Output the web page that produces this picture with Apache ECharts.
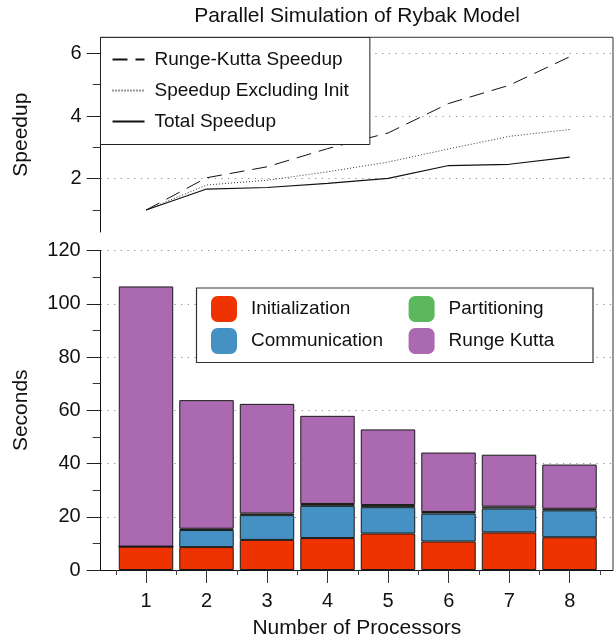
<!DOCTYPE html>
<html>
<head>
<meta charset="utf-8">
<script src="https://cdn.jsdelivr.net/npm/echarts@6/dist/echarts.min.js"></script>
<style>html,body{margin:0;padding:0;background:#fff;}#main{width:616px;height:634px;}</style>
</head>
<body>
<div id="main"></div>
<script>
// ---- data ----
const categories = ['1', '2', '3', '4', '5', '6', '7', '8'];
const processors = [1, 2, 3, 4, 5, 6, 7, 8];
const binEdges = [0.5, 1.5, 2.5, 3.5, 4.5, 5.5, 6.5, 7.5, 8.5];

const initialization = [8.8, 8.6, 11.3, 12.0, 13.7, 10.7, 14.1, 12.3];
const communication = [0, 6.4, 9.3, 12.1, 9.9, 10.5, 9.0, 10.1];
const partitioning = [0, 0.5, 0.6, 0.7, 0.8, 0.6, 0.7, 0.6];
const rungeKutta = [97.7, 48.3, 41.2, 33.1, 28.4, 22.3, 19.5, 16.6];

const rkSpeedup = [1.0, 2.03, 2.38, 2.96, 3.46, 4.40, 4.98, 5.89];
const exclInitSpeedup = [1.0, 1.80, 1.95, 2.22, 2.53, 2.95, 3.35, 3.57];
const totalSpeedup = [1.0, 1.67, 1.72, 1.85, 2.01, 2.42, 2.46, 2.69];

const speedupLabelTicks = [2, 4, 6];
const speedupMinorTicks = [1, 3, 5];
// ---------------

const FONT = '"Liberation Sans", Arial, Helvetica, sans-serif';
const BLACK = '#111';
const gridDots = { color: '#8a8a8a', width: 1, type: [1.2, 5.5] };
const X_MIN = 0.25, X_MAX = 8.715;

const chart = echarts.init(document.getElementById('main'), null, { renderer: 'canvas' });

const pairs = arr => processors.map((p, i) => [p, arr[i]]);

const barBase = {
  type: 'bar', stack: 'total', xAxisIndex: 3, yAxisIndex: 3,
  barCategoryGap: '10%'
};
const barStyle = c => ({ color: c, borderColor: '#1a1a1a', borderWidth: 1 });

const option = {
  backgroundColor: '#fff',
  animation: false,
  textStyle: { fontFamily: FONT, color: BLACK },
  title: {
    text: 'Parallel Simulation of Rybak Model',
    left: 357, top: 6, textAlign: 'center', padding: 0,
    textStyle: { fontFamily: FONT, fontSize: 21, fontWeight: 'normal', color: BLACK }
  },
  grid: [
    { left: 100.7, right: 3, top: 37.3, height: 194.7, outerBoundsMode: 'none', containLabel: false },
    { left: 100.7, right: 3, top: 250.5, bottom: 64, outerBoundsMode: 'none', containLabel: false },
    { left: 115.75, width: 484, top: 250.5, bottom: 64, outerBoundsMode: 'none', containLabel: false }
  ],
  xAxis: [
    { gridIndex: 0, type: 'value', min: X_MIN, max: X_MAX, show: false },
    {
      gridIndex: 1, type: 'value', min: X_MIN, max: X_MAX, position: 'bottom',
      axisLine: { show: true, onZero: false, lineStyle: { color: BLACK, width: 1 } },
      axisTick: { show: true, length: 13, customValues: processors, lineStyle: { color: '#333' } },
      axisLabel: { customValues: processors, fontSize: 20, color: BLACK, margin: 21, fontFamily: FONT },
      splitLine: { show: false },
      name: 'Number of Processors', nameLocation: 'middle', nameGap: 48,
      nameTextStyle: { fontSize: 21, color: BLACK, fontFamily: FONT }
    },
    {
      gridIndex: 1, type: 'value', min: X_MIN, max: X_MAX, position: 'bottom',
      axisLine: { show: false, onZero: false },
      axisTick: { show: true, length: 5, customValues: binEdges, lineStyle: { color: '#444' } },
      axisLabel: { show: false },
      splitLine: { show: false }
    },
    { gridIndex: 2, type: 'category', data: categories, boundaryGap: true, show: false }
  ],
  yAxis: [
    {
      gridIndex: 0, type: 'value', min: 0.3, max: 6.51, position: 'left',
      axisLine: { show: true, onZero: false, lineStyle: { color: BLACK, width: 1 } },
      axisTick: { show: true, length: 14, customValues: speedupLabelTicks, lineStyle: { color: '#222' } },
      axisLabel: { customValues: speedupLabelTicks, fontSize: 20, color: BLACK, margin: 19, fontFamily: FONT },
      splitLine: { show: false },
      name: 'Speedup', nameLocation: 'middle', nameGap: 69,
      nameTextStyle: { fontSize: 21, color: BLACK, fontFamily: FONT }
    },
    {
      gridIndex: 0, type: 'value', min: 0.3, max: 6.51, position: 'left',
      axisLine: { show: false, onZero: false },
      axisTick: { show: true, length: 8, customValues: speedupMinorTicks, lineStyle: { color: '#333' } },
      axisLabel: { show: false },
      splitLine: { show: false }
    },
    {
      gridIndex: 1, type: 'value', min: 0, max: 120, interval: 20, position: 'left',
      axisLine: { show: true, onZero: false, lineStyle: { color: BLACK, width: 1 } },
      axisTick: { show: true, length: 14, lineStyle: { color: '#222' } },
      minorTick: { show: true, splitNumber: 2, length: 8, lineStyle: { color: '#333' } },
      axisLabel: { fontSize: 20, color: BLACK, margin: 20, fontFamily: FONT },
      splitLine: { show: true, lineStyle: gridDots },
      name: 'Seconds', nameLocation: 'middle', nameGap: 69,
      nameTextStyle: { fontSize: 21, color: BLACK, fontFamily: FONT }
    },
    { gridIndex: 2, type: 'value', min: 0, max: 120, show: false }
  ],
  legend: [
    {
      data: ['Runge-Kutta Speedup', 'Speedup Excluding Init', 'Total Speedup'],
      orient: 'vertical', left: 100.5, top: 37.5,
      padding: [12, 21, 13, 11], itemWidth: 32, itemHeight: 14, itemGap: 11,
      backgroundColor: '#fff', borderColor: '#222', borderWidth: 1, borderRadius: 0,
      selectedMode: false,
      itemStyle: { color: 'rgba(0,0,0,0)', borderWidth: 0, opacity: 0 },
      textStyle: { fontSize: 19, lineHeight: 20, color: BLACK, fontFamily: FONT, padding: [0, 0, 0, 5] }
    },
    {
      data: ['Initialization', 'Communication'],
      orient: 'vertical', left: 211, top: 296, padding: 0,
      itemWidth: 26, itemHeight: 26, itemGap: 6, icon: 'roundRect',
      itemStyle: { borderWidth: 0 }, selectedMode: false,
      textStyle: { fontSize: 19, color: BLACK, fontFamily: FONT, padding: [0, 0, 0, 9] }
    },
    {
      data: ['Partitioning', 'Runge Kutta'],
      orient: 'vertical', left: 408.6, top: 296, padding: 0,
      itemWidth: 26, itemHeight: 26, itemGap: 6, icon: 'roundRect',
      itemStyle: { borderWidth: 0 }, selectedMode: false,
      textStyle: { fontSize: 19, color: BLACK, fontFamily: FONT, padding: [0, 0, 0, 9] }
    }
  ],
  graphic: [
    {
      type: 'rect', z: 3,
      shape: { x: 196.5, y: 288, width: 396.5, height: 74.5 },
      style: { fill: '#fff', stroke: '#333', lineWidth: 1.2 }
    },
    {
      type: 'polyline', z: 5,
      shape: { points: [[100.7, 37.3], [613, 37.3], [613, 570]] },
      style: { fill: null, stroke: '#333', lineWidth: 1 }
    }
  ],
  series: [
    {
      name: 'Runge-Kutta Speedup', type: 'line', xAxisIndex: 0, yAxisIndex: 0,
      data: pairs(rkSpeedup), symbol: 'none', z: 3,
      lineStyle: { color: BLACK, width: 1, type: [15, 8] }, itemStyle: { color: BLACK },
      markLine: {
        silent: true, symbol: 'none', label: { show: false }, z: 1,
        lineStyle: gridDots,
        data: speedupLabelTicks.map(v => ({ yAxis: v }))
      }
    },
    {
      name: 'Speedup Excluding Init', type: 'line', xAxisIndex: 0, yAxisIndex: 0,
      data: pairs(exclInitSpeedup), symbol: 'none', z: 3,
      lineStyle: { color: '#333', width: 1, type: [1, 2] }, itemStyle: { color: '#333' }
    },
    {
      name: 'Total Speedup', type: 'line', xAxisIndex: 0, yAxisIndex: 0,
      data: pairs(totalSpeedup), symbol: 'none', z: 3,
      lineStyle: { color: BLACK, width: 1.2, type: 'solid' }, itemStyle: { color: BLACK }
    },
    Object.assign({}, barBase, { name: 'Initialization', data: initialization, itemStyle: barStyle('#EE3300') }),
    Object.assign({}, barBase, { name: 'Communication', data: communication, itemStyle: barStyle('#4591C4') }),
    Object.assign({}, barBase, { name: 'Partitioning', data: partitioning, itemStyle: barStyle('#5CB85C') }),
    Object.assign({}, barBase, { name: 'Runge Kutta', data: rungeKutta, itemStyle: barStyle('#AA69B0') })
  ]
};

chart.setOption(option);
</script>
</body>
</html>
